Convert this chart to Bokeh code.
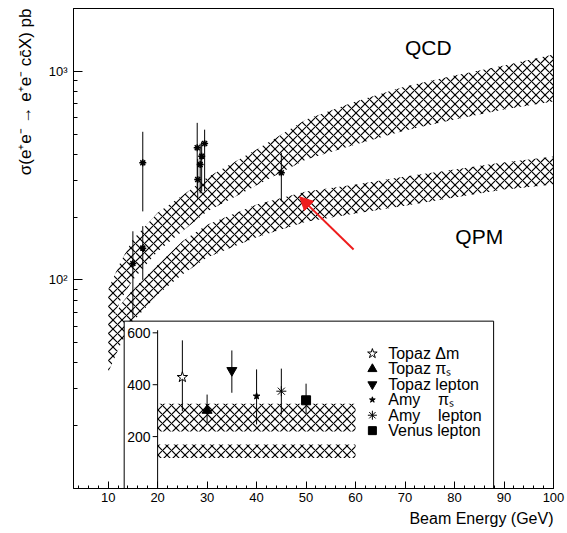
import numpy as np
from bokeh.plotting import figure
from bokeh.models import Range1d, LinearScale, FixedTicker, SingleIntervalTicker, Title, Arrow, NormalHead
from bokeh.core.properties import value
from bokeh.embed import file_html
from bokeh.resources import INLINE

FONT = "Liberation Sans"
NB = "\u00a0"

# ---- theory bands (main panel) ----
band_x = [10, 12.5, 15, 20, 25, 30, 40, 50, 60, 70, 80, 90, 100]
qcd_hi = [90, 122, 156, 210, 254, 310, 422, 587, 717, 846, 955, 1066, 1204]
qcd_lo = [55, 80, 100, 137, 171, 213, 284, 378, 446, 520, 587, 656, 717]
qpm_hi = [58, 76, 90, 118, 153, 184, 230, 265, 287, 313, 338, 366, 390]
qpm_lo = [36, 49, 63, 85, 106, 128, 160, 190, 208, 227, 248, 271, 287]

# ---- measurements (main panel) ----
meas_x = [15, 17, 17, 28, 28.1, 28.6, 28.9, 29.5, 45]
meas_y = [120, 142, 364, 430, 303, 357, 392, 451, 326]
meas_lo = [66, 100, 213, 271, 243, 260, 265, 266, 238]
meas_hi = [171, 181, 513, 566, 380, 450, 460, 525, 406]

# ---- inset ----
inset_labels = ["Topaz \u0394m", "Topaz \u03c0\u209b", "Topaz lepton",
                "Amy" + NB * 4 + "\u03c0\u209b", "Amy" + NB * 4 + "lepton", "Venus lepton"]
inset_x = [25, 30, 35, 40, 45, 50]
inset_y = [429, 301, 455, 356, 375, 340]
inset_lo = [298, 247, 369, 247, 285, 285]
inset_hi = [571, 362, 532, 459, 462, 404]
inset_markers = ["star", "triangle", "inverted_triangle", "star", "asterisk", "square"]
inset_sizes = [11, 10, 10, 7, 10, 9]
inset_fill = ["white", "black", "black", "black", "black", "black"]
inset_band_x = [20, 60]
inset_qcd = [220, 327]
inset_qpm = [118, 170]
inset_ticks = [200, 400, 600]
inset_tick_labels = ["200", "400", "600"]

y_ticks = [100, 1000]
y_tick_labels = {100: "10\u00b2", 1000: "10\u00b3"}
y_minor = [20, 30, 40, 50, 60, 70, 80, 90, 200, 300, 400, 500, 600, 700, 800, 900, 2000]

p = figure(width=565, height=532, x_range=(3, 100), y_range=(10, 2000),
           y_axis_type="log", output_backend="svg", toolbar_location=None,
           min_border_left=73, min_border_right=12, min_border_top=8, min_border_bottom=44)
p.extra_y_ranges = {"inset": Range1d(0, 1850)}
p.extra_y_scales = {"inset": LinearScale()}
p.grid.visible = False
p.outline_line_color = "black"
p.outline_line_width = 1
p.background_fill_color = "white"

# axes
p.xaxis.ticker = SingleIntervalTicker(interval=10, num_minor_ticks=5)
p.yaxis.ticker = FixedTicker(ticks=y_ticks, minor_ticks=y_minor)
p.yaxis.major_label_overrides = y_tick_labels
for ax in (p.xaxis, p.yaxis):
    ax.axis_line_color = "black"
    ax.major_tick_line_color = "black"
    ax.minor_tick_line_color = "black"
    ax.major_tick_out = 0
    ax.minor_tick_out = 0
    ax.major_label_text_font = FONT
    ax.major_label_text_font_size = "13px"
    ax.major_label_text_color = "black"
p.xaxis.major_tick_in = 7
p.xaxis.minor_tick_in = 3
p.yaxis.major_tick_in = 9
p.yaxis.minor_tick_in = 4
p.xaxis.major_label_standoff = 4
p.yaxis.major_label_standoff = 6

# axis titles (right/top aligned, as in the original)
p.add_layout(Title(text="Beam Energy (GeV)", align="right", text_font=FONT,
                   text_font_size="16px", text_font_style="normal", text_color="black",
                   standoff=7), "below")
p.add_layout(Title(text="\u03c3(e\u207ae\u207b" + NB + "\u2192" + NB + "e\u207ae\u207b"
                   + NB + "c\u0063\u0304X) pb",
                   align="right", text_font=FONT, text_font_size="17px",
                   text_font_style="normal", text_color="black", standoff=21), "left")

# bands
hatch = dict(fill_color=None, hatch_pattern="x", hatch_color="black",
             hatch_weight=1.2, hatch_scale=9)
p.varea(x=band_x, y1=qcd_lo, y2=qcd_hi, **hatch)
p.varea(x=band_x, y1=qpm_lo, y2=qpm_hi, **hatch)

# labels QCD/QPM
p.text(x=[74.7], y=[1294], text=["QCD"], text_font=value(FONT), text_font_size="21px",
       text_align="center", text_baseline="middle", text_color="black")
p.text(x=[85], y=[162], text=["QPM"], text_font=value(FONT), text_font_size="21px",
       text_align="center", text_baseline="middle", text_color="black")

# arrow
arrow_start = (59.6, 140)
arrow_end = (48.7, 250)
p.add_layout(Arrow(end=NormalHead(fill_color="#ee1c1c", line_color="#ee1c1c", size=13),
                   x_start=arrow_start[0], y_start=arrow_start[1],
                   x_end=arrow_end[0], y_end=arrow_end[1],
                   line_color="#ee1c1c", line_width=2))

# measurements
p.segment(x0=meas_x, y0=meas_lo, x1=meas_x, y1=meas_hi, line_color="black", line_width=1)
p.scatter(x=meas_x, y=meas_y, marker="asterisk", size=7, line_color="black", line_width=1.5)

# ---- inset ----
INSET_LEFT, INSET_RIGHT, INSET_TOP = 13.24, 87.9, 645
p.quad(left=[INSET_LEFT], right=[INSET_RIGHT], bottom=[0], top=[INSET_TOP],
       fill_color="white", line_color="black", line_width=1, y_range_name="inset")
p.varea(x=inset_band_x, y1=[inset_qcd[0]] * 2, y2=[inset_qcd[1]] * 2,
        y_range_name="inset", **hatch)
p.varea(x=inset_band_x, y1=[inset_qpm[0]] * 2, y2=[inset_qpm[1]] * 2,
        y_range_name="inset", **hatch)
# inset axis
AX_X = 20
p.segment(x0=[AX_X], y0=[0], x1=[AX_X], y1=[610], line_color="black", y_range_name="inset")
p.segment(x0=[AX_X - 1.0] * 3, y0=inset_ticks, x1=[AX_X] * 3, y1=inset_ticks,
          line_color="black", y_range_name="inset")
p.text(x=[AX_X] * 3, y=inset_ticks, text=inset_tick_labels, x_offset=-7,
       text_align="right", text_baseline="middle", text_font=value(FONT),
       text_font_size="14px", text_color="black", y_range_name="inset")
# inset points
p.segment(x0=inset_x, y0=inset_lo, x1=inset_x, y1=inset_hi, line_color="black",
          y_range_name="inset")
for i in range(len(inset_x)):
    p.scatter(x=[inset_x[i]], y=[inset_y[i]], marker=inset_markers[i], size=inset_sizes[i],
              fill_color=inset_fill[i], line_color="black", line_width=1,
              y_range_name="inset")
# inset legend (layout positions)
LEG_SYM_X, LEG_TXT_X, LEG_TOP, LEG_STEP = 63.4, 66.6, 520, 59.4
leg_y = [LEG_TOP - i * LEG_STEP for i in range(len(inset_labels))]
for i in range(len(inset_labels)):
    p.scatter(x=[LEG_SYM_X], y=[leg_y[i]], marker=inset_markers[i], size=inset_sizes[i] - 1,
              fill_color=inset_fill[i], line_color="black", line_width=1,
              y_range_name="inset")
p.text(x=[LEG_TXT_X] * len(inset_labels), y=leg_y, text=inset_labels,
       text_align="left", text_baseline="middle", text_font=value(FONT),
       text_font_size="16px", text_color="black", y_range_name="inset")

open("out.html", "w").write(file_html(p, INLINE))
